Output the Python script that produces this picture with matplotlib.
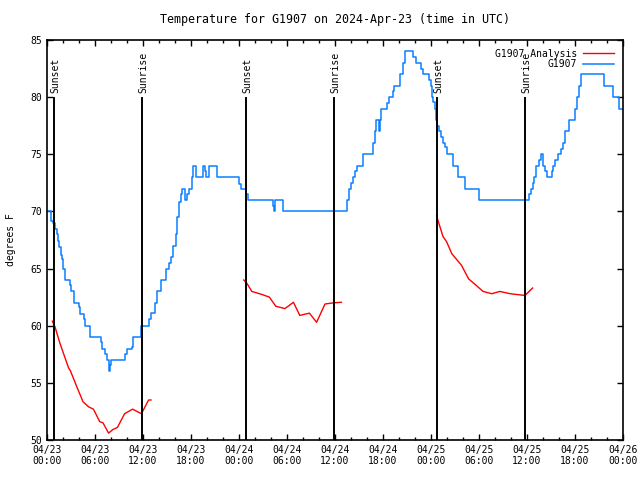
import matplotlib
matplotlib.use("Agg")
import matplotlib.pyplot as plt
import numpy as np

# =========================
# Data (hours since 2024-04-23 00:00 UTC)
# =========================
obs_hours = [0, 0.5, 0.8, 1.0, 1.2, 1.35, 1.5, 1.7, 1.85, 2.0, 2.2, 2.9, 3.0, 3.4,
             4.0, 4.1, 4.6, 4.75, 5.35, 6.7, 6.9, 7.3, 7.5, 7.7, 7.8, 7.9, 8.0,
             9.8, 10.0, 10.6, 10.7, 11.75, 12.75, 13.0, 13.5, 13.8, 14.2, 14.9,
             15.2, 15.5, 15.7, 16.1, 16.3, 16.5, 16.7, 16.9, 17.25, 17.5, 17.75,
             18.1, 18.3, 18.6, 19.55, 19.75, 19.9, 20.3, 21.2, 24.0, 24.2, 24.9,
             25.1, 28.3, 28.4, 28.55, 29.5, 37.5, 37.7, 38.0, 38.3, 38.5, 38.7,
             39.5, 40.8, 40.95, 41.1, 41.45, 41.6, 41.8, 42.5, 42.8, 43.2, 43.4,
             44.1, 44.5, 44.8, 45.8, 46.1, 46.8, 47.0, 47.8, 47.95, 48.1, 48.3,
             48.5, 48.65, 48.8, 49.0, 49.3, 49.5, 49.75, 50.0, 50.8, 51.4, 52.3,
             54.0, 60.3, 60.5, 60.8, 60.9, 61.1, 61.5, 61.75, 62.0, 62.3, 62.5,
             63.1, 63.2, 63.5, 63.9, 64.3, 64.5, 64.7, 65.2, 66.0, 66.3, 66.5,
             66.75, 69.6, 70.7, 71.5, 72.0]
obs_temp = [70, 69.2, 69, 68.5, 68, 67.4, 66.9, 66.2, 65.8, 65, 64, 63.6, 63, 62,
            61.6, 61, 60.6, 60, 59, 58.6, 58, 57.5, 57, 56.6, 56, 56.6, 57,
            57.5, 58, 58.1, 59, 60, 60.6, 61.1, 62, 63, 64, 65,
            65.5, 66, 67, 68, 69.5, 70.8, 71.5, 72, 71, 71.5, 72,
            73, 74, 73, 74, 73.5, 73, 74, 73, 72.4, 72, 71.5,
            71, 70.5, 70, 71, 70, 71, 72, 72.5, 73, 73.5, 74,
            75, 76, 77, 78, 77, 78, 79, 79.5, 80, 80.5, 81,
            82, 83, 84, 83.5, 83, 82.5, 82, 81.5, 81, 80, 79.6,
            79, 78, 77.5, 77, 76.5, 76, 75.6, 75, 74, 73, 72,
            71, 71.5, 72, 72.5, 73, 74, 74.5, 75, 74, 73.5, 73,
            73.5, 74, 74.5, 75, 75.5, 76, 77, 78, 79, 80, 81,
            82, 81, 80, 79, 79]

ana_hours_1 = [0.67, 1.0, 1.6, 2.0, 2.7, 2.9, 3.7, 4.5, 5.2, 5.8, 6.6, 7.0, 7.7,
               8.2, 8.8, 9.7, 10.7, 11.8, 12.4, 12.7, 13.0]
ana_temp_1 = [60.4, 59.9, 58.5, 57.7, 56.3, 56.1, 54.7, 53.35, 52.9, 52.7, 51.6,
              51.5, 50.6, 50.9, 51.1, 52.3, 52.7, 52.3, 53.1, 53.5, 53.5]

ana_hours_2 = [24.6, 25.0, 25.6, 26.8, 27.8, 28.6, 29.75, 30.8, 31.6, 32.8, 33.7,
               34.75, 35.8, 36.8]
ana_temp_2 = [64.0, 63.7, 63.0, 62.75, 62.5, 61.7, 61.5, 62.05, 60.9, 61.1, 60.3,
              61.9, 62.0, 62.05]

ana_hours_3 = [48.7, 49.1, 49.5, 49.95, 50.6, 51.2, 51.8, 52.7, 53.7, 54.5, 55.6,
               56.6, 57.9, 59.1, 59.75, 60.7]
ana_temp_3 = [69.6, 68.7, 67.8, 67.35, 66.3, 65.8, 65.3, 64.1, 63.5, 63.0, 62.8,
              63.0, 62.8, 62.7, 62.65, 63.3]

sun_hours = [0.9, 11.9, 24.9, 35.9, 48.8, 59.8]
sun_labels = ["Sunset", "Sunrise", "Sunset", "Sunrise", "Sunset", "Sunrise"]

tick_hours = [0, 6, 12, 18, 24, 30, 36, 42, 48, 54, 60, 66, 72]
tick_labels = ["04/23\n00:00", "04/23\n06:00", "04/23\n12:00", "04/23\n18:00",
               "04/24\n00:00", "04/24\n06:00", "04/24\n12:00", "04/24\n18:00",
               "04/25\n00:00", "04/25\n06:00", "04/25\n12:00", "04/25\n18:00",
               "04/26\n00:00"]

# =========================
# Figure
# =========================
plt.rcParams["font.family"] = "DejaVu Sans Mono"
plt.rcParams["font.size"] = 7

fig = plt.figure(figsize=(6.4, 4.8), dpi=100)
ax = fig.add_axes([47 / 640, 40 / 480, 576 / 640, 400 / 480])

red = "#ff0000"
blue = "#0a7eff"

ax.plot(ana_hours_1, ana_temp_1, color=red, lw=1.0, label="G1907 Analysis")
ax.plot(ana_hours_2, ana_temp_2, color=red, lw=1.0)
ax.plot(ana_hours_3, ana_temp_3, color=red, lw=1.0)
ax.plot(obs_hours, obs_temp, color=blue, lw=1.1, drawstyle="steps-post", label="G1907")

for h, lab in zip(sun_hours, sun_labels):
    ax.axvline(h, ymin=0, ymax=0.855, color="black", lw=1.4)
    ax.text(h + 0.15, 0.868, lab, rotation=90, ha="center", va="bottom",
            transform=ax.get_xaxis_transform())

ax.set_xlim(0, 72)
ax.set_ylim(50, 85)
ax.set_xticks(tick_hours)
ax.set_xticklabels(tick_labels)
ax.set_xticks(np.arange(0, 73, 2), minor=True)
ax.set_yticks(np.arange(50, 86, 5))
ax.tick_params(which="both", direction="in", top=True, right=True, width=1)
ax.tick_params(which="major", length=4.5)
ax.tick_params(which="minor", length=2.5)
for s in ax.spines.values():
    s.set_linewidth(1.2)

ax.set_ylabel("degrees F", labelpad=10)
ax.set_title("Temperature for G1907 on 2024-Apr-23 (time in UTC)", pad=12)

ax.legend(loc="upper right", frameon=False, markerfirst=False,
          handlelength=3.2, borderaxespad=0.5, labelspacing=0.05, handletextpad=0.6)

plt.savefig("out.png", dpi=100)
